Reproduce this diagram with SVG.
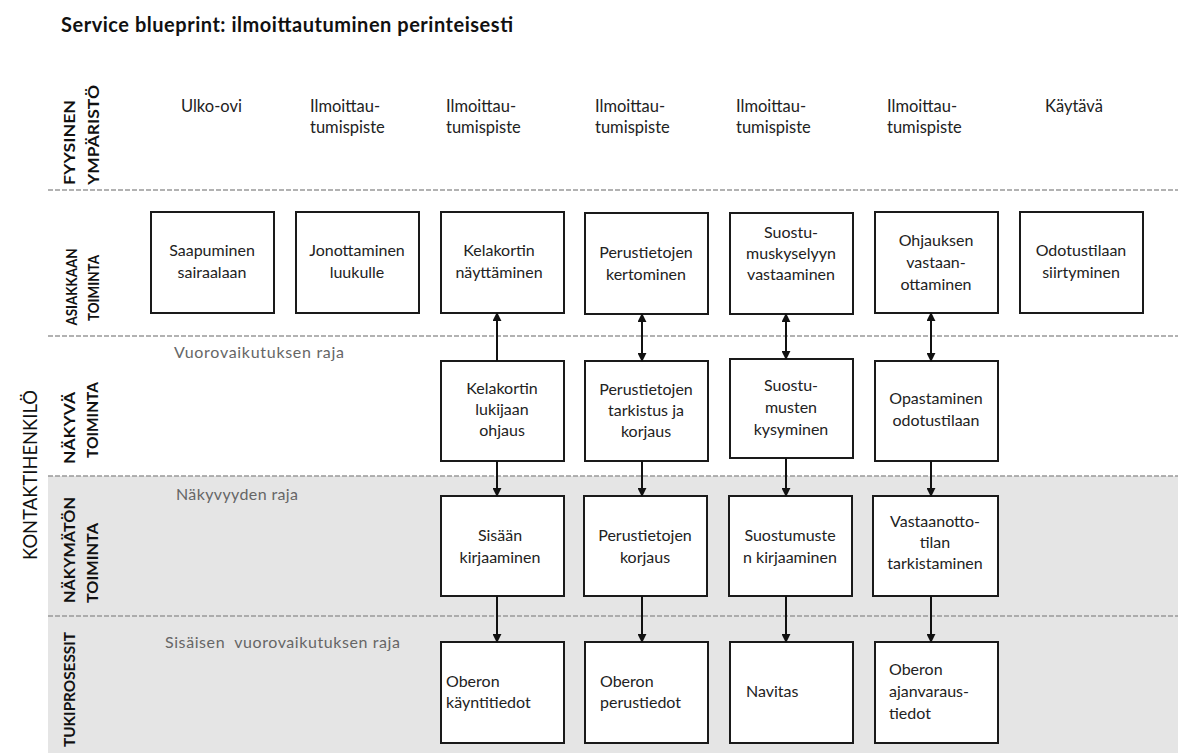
<svg xmlns="http://www.w3.org/2000/svg" width="1178" height="753" viewBox="0 0 1178 753">
  <style>
    .title { font-family: Lato, "Open Sans", "Liberation Sans", sans-serif; font-weight: 700; font-size: 20px; fill: #111; }
    .lane { font-family: Lato, "Open Sans", "Liberation Sans", sans-serif; font-weight: 700; font-size: 15px; fill: #111; }
    .side { font-family: Lato, "Open Sans", "Liberation Sans", sans-serif; font-size: 20px; fill: #111; }
    .env { font-family: Lato, "Open Sans", "Liberation Sans", sans-serif; font-size: 16.5px; fill: #222; }
    .bound { font-family: Lato, "Open Sans", "Liberation Sans", sans-serif; font-size: 16px; fill: #666; }
    .box rect { fill: #fff; stroke: #1a1a1a; stroke-width: 2; }
    .box text { font-family: Lato, "Open Sans", "Liberation Sans", sans-serif; font-size: 16px; fill: #222; text-anchor: middle; }
    .box text.left { text-anchor: start; }
    .sep { stroke: #999; stroke-width: 1.5; stroke-dasharray: 5 2; }
    .conn path { fill: none; stroke: #111; stroke-width: 2; }
  </style>
  <defs>
    <marker id="arrow" viewBox="0 0 10 10" refX="9" refY="5" markerWidth="9" markerHeight="9" markerUnits="userSpaceOnUse" orient="auto-start-reverse">
      <path d="M0,0 L10,5 L0,10 z" fill="#111"/>
    </marker>
  </defs>

  <rect width="1178" height="753" fill="#fff"/>
  <!-- shaded area for backstage and support lanes -->
  <rect x="48" y="476" width="1130" height="277" fill="#e5e5e5"/>

  <text class="title" x="61" y="32" textLength="452" lengthAdjust="spacing">Service blueprint: ilmoittautuminen perinteisesti</text>

  <!-- lane separators -->
  <g id="separators">
    <line class="sep" x1="48" y1="190" x2="1178" y2="190"/>
    <line class="sep" x1="48" y1="336" x2="1178" y2="336"/>
    <line class="sep" x1="48" y1="476" x2="1178" y2="476"/>
    <line class="sep" x1="48" y1="616" x2="1178" y2="616"/>
  </g>

  <!-- lane titles -->
  <g id="lane-titles">
    <text class="side" transform="translate(37,475) rotate(-90)" text-anchor="middle" textLength="170" lengthAdjust="spacingAndGlyphs">KONTAKTIHENKILÖ</text>
    <text class="lane" transform="translate(75,185) rotate(-90)" textLength="85" lengthAdjust="spacingAndGlyphs">FYYSINEN</text>
    <text class="lane" transform="translate(99,185) rotate(-90)" textLength="100" lengthAdjust="spacingAndGlyphs">YMPÄRISTÖ</text>
    <text class="lane" transform="translate(77,287) rotate(-90)" text-anchor="middle" textLength="77" lengthAdjust="spacingAndGlyphs">ASIAKKAAN</text>
    <text class="lane" transform="translate(99,288) rotate(-90)" text-anchor="middle" textLength="66" lengthAdjust="spacingAndGlyphs">TOIMINTA</text>
    <text class="lane" transform="translate(75,428) rotate(-90)" text-anchor="middle" textLength="72" lengthAdjust="spacingAndGlyphs">NÄKYVÄ</text>
    <text class="lane" transform="translate(98,420) rotate(-90)" text-anchor="middle" textLength="76" lengthAdjust="spacingAndGlyphs">TOIMINTA</text>
    <text class="lane" transform="translate(75,603) rotate(-90)" textLength="106" lengthAdjust="spacingAndGlyphs">NÄKYMÄTÖN</text>
    <text class="lane" transform="translate(98,603) rotate(-90)" textLength="80" lengthAdjust="spacingAndGlyphs">TOIMINTA</text>
    <text class="lane" transform="translate(75,747) rotate(-90)" textLength="115" lengthAdjust="spacingAndGlyphs">TUKIPROSESSIT</text>
  </g>

  <!-- boundary labels -->
  <g id="boundaries">
    <text class="bound" x="174" y="358" textLength="170" lengthAdjust="spacing">Vuorovaikutuksen raja</text>
    <text class="bound" x="176" y="500" textLength="122" lengthAdjust="spacing">Näkyvyyden raja</text>
    <text class="bound" x="165" y="648" textLength="235" lengthAdjust="spacing" xml:space="preserve">Sisäisen  vuorovaikutuksen raja</text>
  </g>

  <!-- physical environment row -->
  <g id="environment">
    <text class="env" x="181" y="112">Ulko-ovi</text>
    <text class="env" x="310" y="112">Ilmoittau-<tspan x="310" y="133">tumispiste</tspan></text>
    <text class="env" x="446" y="112">Ilmoittau-<tspan x="446" y="133">tumispiste</tspan></text>
    <text class="env" x="595" y="112">Ilmoittau-<tspan x="595" y="133">tumispiste</tspan></text>
    <text class="env" x="736" y="112">Ilmoittau-<tspan x="736" y="133">tumispiste</tspan></text>
    <text class="env" x="887" y="112">Ilmoittau-<tspan x="887" y="133">tumispiste</tspan></text>
    <text class="env" x="1045" y="112">Käytävä</text>
  </g>

  <!-- customer actions -->
  <g id="saapuminen" class="box">
    <rect x="151" y="212" width="123" height="101"/>
    <text x="212" y="256">Saapuminen<tspan x="212" y="278">sairaalaan</tspan></text>
  </g>
  <g id="jonottaminen" class="box">
    <rect x="296" y="212" width="123" height="101"/>
    <text x="357" y="256">Jonottaminen<tspan x="357" y="278">luukulle</tspan></text>
  </g>
  <g id="kelakortin-nayttaminen" class="box">
    <rect x="441" y="212" width="123" height="101"/>
    <text x="499" y="256">Kelakortin<tspan x="499" y="278">näyttäminen</tspan></text>
  </g>
  <g id="perustietojen-kertominen" class="box">
    <rect x="585" y="213" width="123" height="101"/>
    <text x="646" y="258">Perustietojen<tspan x="646" y="280">kertominen</tspan></text>
  </g>
  <g id="suostumuskyselyyn-vastaaminen" class="box">
    <rect x="730" y="213" width="123" height="101"/>
    <text x="791" y="238">Suostu-<tspan x="791" y="259">muskyselyyn</tspan><tspan x="791" y="280">vastaaminen</tspan></text>
  </g>
  <g id="ohjauksen-vastaanottaminen" class="box">
    <rect x="875" y="212" width="123" height="101"/>
    <text x="936" y="246">Ohjauksen<tspan x="936" y="268">vastaan-</tspan><tspan x="936" y="290">ottaminen</tspan></text>
  </g>
  <g id="odotustilaan-siirtyminen" class="box">
    <rect x="1020" y="212" width="123" height="101"/>
    <text x="1081" y="256">Odotustilaan<tspan x="1081" y="278">siirtyminen</tspan></text>
  </g>

  <!-- visible staff actions -->
  <g id="kelakortin-lukijaan-ohjaus" class="box">
    <rect x="441" y="361" width="123" height="100"/>
    <text x="502" y="394">Kelakortin<tspan x="502" y="415">lukijaan</tspan><tspan x="502" y="436">ohjaus</tspan></text>
  </g>
  <g id="perustietojen-tarkistus" class="box">
    <rect x="585" y="361" width="123" height="100"/>
    <text x="646" y="395">Perustietojen<tspan x="646" y="416">tarkistus ja</tspan><tspan x="646" y="437">korjaus</tspan></text>
  </g>
  <g id="suostumusten-kysyminen" class="box">
    <rect x="730" y="359" width="123" height="99"/>
    <text x="791" y="391">Suostu-<tspan x="791" y="413">musten</tspan><tspan x="791" y="435">kysyminen</tspan></text>
  </g>
  <g id="opastaminen-odotustilaan" class="box">
    <rect x="875" y="361" width="123" height="100"/>
    <text x="936" y="404">Opastaminen<tspan x="936" y="426">odotustilaan</tspan></text>
  </g>

  <!-- invisible staff actions -->
  <g id="sisaan-kirjaaminen" class="box">
    <rect x="441" y="496" width="123" height="100"/>
    <text x="500" y="541">Sisään<tspan x="500" y="563">kirjaaminen</tspan></text>
  </g>
  <g id="perustietojen-korjaus" class="box">
    <rect x="584" y="496" width="123" height="100"/>
    <text x="645" y="541">Perustietojen<tspan x="645" y="563">korjaus</tspan></text>
  </g>
  <g id="suostumusten-kirjaaminen" class="box">
    <rect x="729" y="496" width="123" height="100"/>
    <text x="790" y="541">Suostumuste<tspan x="790" y="563">n kirjaaminen</tspan></text>
  </g>
  <g id="vastaanottotilan-tarkistaminen" class="box">
    <rect x="873" y="496" width="125" height="100"/>
    <text x="935" y="527">Vastaanotto-<tspan x="935" y="548">tilan</tspan><tspan x="935" y="569">tarkistaminen</tspan></text>
  </g>

  <!-- support processes -->
  <g id="oberon-kayntitiedot" class="box">
    <rect x="441" y="642" width="123" height="101"/>
    <text class="left" x="446" y="687">Oberon<tspan x="446" y="708">käyntitiedot</tspan></text>
  </g>
  <g id="oberon-perustiedot" class="box">
    <rect x="585" y="642" width="123" height="101"/>
    <text class="left" x="600" y="687">Oberon<tspan x="600" y="708">perustiedot</tspan></text>
  </g>
  <g id="navitas" class="box">
    <rect x="730" y="642" width="123" height="101"/>
    <text class="left" x="746" y="697">Navitas</text>
  </g>
  <g id="oberon-ajanvaraustiedot" class="box">
    <rect x="875" y="642" width="123" height="101"/>
    <text class="left" x="889" y="675">Oberon<tspan x="889" y="697">ajanvaraus-</tspan><tspan x="889" y="719">tiedot</tspan></text>
  </g>

  <!-- connectors -->
  <g id="connectors" class="conn">
    <path d="M497,361 V313" marker-end="url(#arrow)"/>
    <path d="M497,461 V496" marker-end="url(#arrow)"/>
    <path d="M497,596 V642" marker-end="url(#arrow)"/>

    <path d="M642,314 V361" marker-start="url(#arrow)" marker-end="url(#arrow)"/>
    <path d="M642,461 V496" marker-end="url(#arrow)"/>
    <path d="M642,596 V642" marker-end="url(#arrow)"/>

    <path d="M786,314 V359" marker-start="url(#arrow)" marker-end="url(#arrow)"/>
    <path d="M786,458 V496" marker-end="url(#arrow)"/>
    <path d="M786,596 V642" marker-end="url(#arrow)"/>

    <path d="M931,313 V361" marker-start="url(#arrow)" marker-end="url(#arrow)"/>
    <path d="M931,461 V496" marker-end="url(#arrow)"/>
    <path d="M931,596 V642" marker-end="url(#arrow)"/>
  </g>
</svg>
